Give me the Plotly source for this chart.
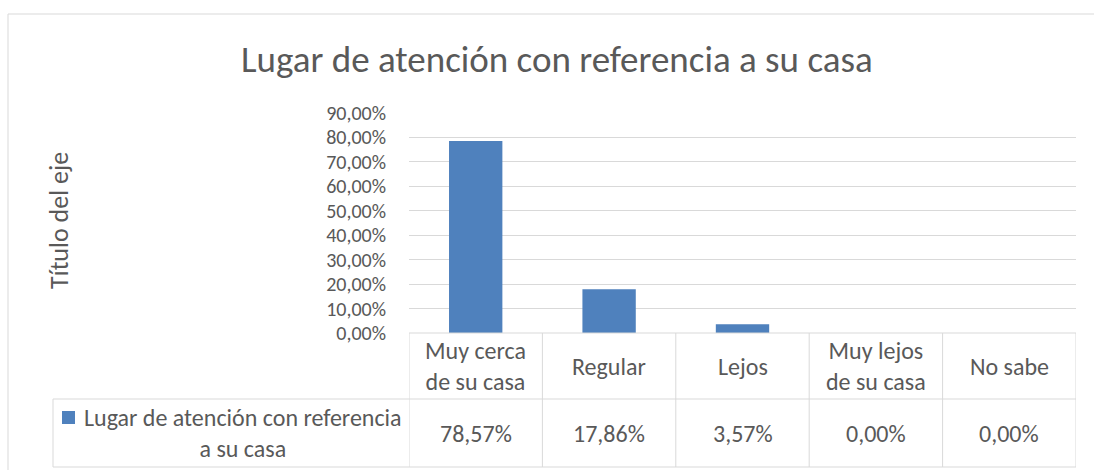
import plotly.graph_objects as go

categories = ["Muy cerca<br>de su casa", "Regular", "Lejos", "Muy lejos<br>de su casa", "No sabe"]
values = [0.7857, 0.1786, 0.0357, 0.0, 0.0]
series_name = "Lugar de atención con referencia a su casa"
legend_label = "Lugar de atención con referencia<br>a su casa"
title_text = "Lugar de atención con referencia a su casa"
y_title = "Título del eje"

W, H = 1094, 470
FONT = "Calibri, Carlito, Lato, sans-serif"
TXT = "#595959"
GRID = "#d9d9d9"
BAR = "#4f81bd"


def px(x):
    return x / W


def py(y):
    return 1 - y / H


x_left, x_right = 409, 1076
y_top, y_zero = 113, 333
y_row, y_bot = 399, 467
leg_left = 53

fig = go.Figure()
fig.add_trace(go.Bar(
    x=list(range(len(categories))), y=values, name=series_name,
    marker=dict(color=BAR, line=dict(width=0)), width=0.4,
    hoverinfo="y",
))

shapes = []
line = dict(color=GRID, width=1)
# outer chart border (left/top)
shapes.append(dict(type="line", xref="paper", yref="paper", x0=px(8), x1=px(8), y0=py(14), y1=py(H + 5), line=line))
shapes.append(dict(type="line", xref="paper", yref="paper", x0=px(8), x1=px(W + 5), y0=py(14), y1=py(14), line=line))
# table horizontals
shapes.append(dict(type="line", xref="x", yref="paper", x0=-0.5, x1=len(categories) - 0.5, y0=py(y_zero), y1=py(y_zero), line=line))
for yy in (y_row, y_bot):
    shapes.append(dict(type="line", xref="paper", yref="paper", x0=px(leg_left), x1=px(x_right), y0=py(yy), y1=py(yy), line=line))
# table verticals
for i in range(len(categories) + 1):
    shapes.append(dict(type="line", xref="x", yref="paper", x0=i - 0.5, x1=i - 0.5, y0=py(y_zero), y1=py(y_bot), line=line))
shapes.append(dict(type="line", xref="paper", yref="paper", x0=px(leg_left), x1=px(leg_left), y0=py(y_row), y1=py(y_bot), line=line))
# legend key
shapes.append(dict(type="rect", xref="paper", yref="paper", x0=px(62), x1=px(75), y0=py(424), y1=py(411),
                   fillcolor=BAR, line=dict(width=0)))

FS = 24
annotations = []
for i, c in enumerate(categories):
    annotations.append(dict(x=i, y=py((y_zero + y_row) / 2), xref="x", yref="paper", text=c, showarrow=False,
                            font=dict(family=FONT, size=FS, color=TXT), align="center", yanchor="middle"))
    v = f"{values[i] * 100:.2f}".replace(".", ",") + "%"
    annotations.append(dict(x=i, y=py((y_row + y_bot) / 2), xref="x", yref="paper", text=v, showarrow=False,
                            font=dict(family=FONT, size=FS, color=TXT), align="center", yanchor="middle"))
annotations.append(dict(x=px(243), y=py(433), xref="paper", yref="paper", text=legend_label, showarrow=False,
                        font=dict(family=FONT, size=FS, color=TXT), align="center", xanchor="center", yanchor="middle"))
annotations.append(dict(x=px(59), y=py(221), xref="paper", yref="paper", text=y_title, showarrow=False, textangle=-90,
                        font=dict(family=FONT, size=26, color=TXT), xanchor="center", yanchor="middle"))
annotations.append(dict(x=px(557), y=py(60), xref="paper", yref="paper", text=title_text, showarrow=False,
                        font=dict(family=FONT, size=37, color=TXT), xanchor="center", yanchor="middle"))

fig.update_layout(
    width=W, height=H, margin=dict(l=0, r=0, t=0, b=0, pad=0, autoexpand=False),
    paper_bgcolor="white", plot_bgcolor="white",
    separators=",.",
    showlegend=False, bargap=0.6,
    font=dict(family=FONT, color=TXT),
    xaxis=dict(domain=[px(x_left), px(x_right)], range=[-0.5, len(categories) - 0.5], automargin=False,
               showticklabels=False, showgrid=False, zeroline=False, showline=False, ticks=""),
    yaxis=dict(domain=[py(y_zero), py(y_top)], range=[0, 0.9], dtick=0.1, tickformat=".2%", automargin=False,
               showgrid=True, gridcolor=GRID, gridwidth=1, zeroline=False, showline=False, ticks="",
               tickfont=dict(family=FONT, size=20, color=TXT), ticklabelstandoff=22),
    shapes=shapes, annotations=annotations,
)

fig.write_html("out.html", config={"displayModeBar": False},
               post_script="document.body.style.margin='0';document.body.style.overflow='hidden';")
